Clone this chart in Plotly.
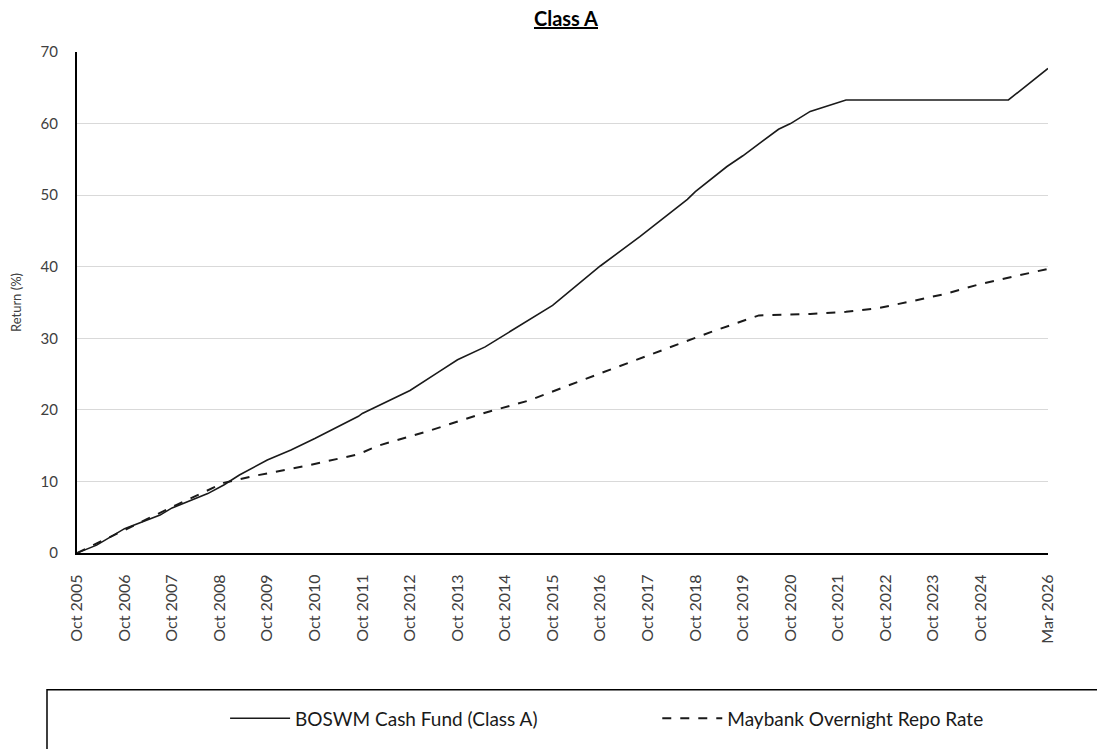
import plotly.graph_objects as go

fund_dates = ["2005-10", "2006-03", "2006-10", "2007-07", "2007-10", "2008-07", "2008-11",
              "2009-03", "2009-10", "2010-04", "2010-10", "2011-09", "2011-10", "2012-10",
              "2013-05", "2013-10", "2014-05", "2014-10", "2015-02", "2015-10", "2016-10",
              "2017-08", "2018-08", "2018-10", "2019-06", "2019-10", "2020-07", "2020-10",
              "2021-03", "2021-12", "2025-05", "2026-03"]
fund_values = [0.0, 1.1, 3.4, 5.3, 6.3, 8.3, 9.5,
               10.9, 13.0, 14.4, 16.0, 19.1, 19.5, 22.7,
               25.2, 27.0, 28.8, 30.5, 31.8, 34.6, 40.1,
               44.2, 49.4, 50.5, 54.0, 55.5, 59.2, 60.0,
               61.7, 63.3, 63.3, 67.7]

bench_dates = ["2005-10", "2006-08", "2007-11", "2008-11", "2009-07", "2010-08", "2011-09",
               "2012-02", "2013-03", "2014-05", "2015-04", "2016-10", "2018-05", "2019-02",
               "2020-02", "2021-03", "2021-12", "2022-08", "2023-04", "2024-01", "2024-10",
               "2025-06", "2026-03"]
bench_values = [0.0, 2.7, 6.7, 9.8, 10.8, 12.2, 13.8,
                15.0, 17.1, 19.6, 21.3, 25.1, 29.0, 30.9,
                33.2, 33.4, 33.7, 34.2, 35.1, 36.2, 37.6,
                38.6, 39.7]

tick_dates = [f"{y}-10-01" for y in range(2005, 2025)] + ["2026-03-01"]
tick_labels = [f"Oct {y}" for y in range(2005, 2025)] + ["Mar 2026"]

FONT = "Lato"

fig = go.Figure()
fig.add_trace(go.Scatter(x=fund_dates, y=fund_values, mode="lines",
                         name="BOSWM Cash Fund (Class A)", legend="legend",
                         line=dict(color="#1a1a1a", width=1.6)))
fig.add_trace(go.Scatter(x=bench_dates, y=bench_values, mode="lines",
                         name="Maybank Overnight Repo Rate", legend="legend2",
                         line=dict(color="#1a1a1a", width=2, dash="dash")))

legend_common = dict(orientation="h", xanchor="left", y=-0.33, yanchor="middle",
                     font=dict(size=19, color="#1a1a1a", family=FONT),
                     bgcolor="rgba(0,0,0,0)", itemwidth=60)

fig.update_layout(
    width=1097, height=749,
    margin=dict(l=77, r=49, t=52, b=187),
    paper_bgcolor="white", plot_bgcolor="white",
    font=dict(family=FONT, color="#333333"),
    title=dict(text="<b><u>Class A</u></b>", x=0.5036, xref="paper", xanchor="center",
               y=1 - 19 / 749, yanchor="middle", font=dict(size=20, color="#000000", family=FONT)),
    showlegend=True,
    legend=dict(x=0.1525, **legend_common),
    legend2=dict(x=0.5976, **legend_common),
    shapes=[dict(type="rect", xref="paper", yref="paper", x0=-0.0309, x1=1.06,
                 y0=-0.273, y1=-0.45, line=dict(color="#000000", width=1.5), layer="above")],
)

fig.update_xaxes(type="date", range=["2005-10-01", "2026-03-01"],
                 tickvals=tick_dates, ticktext=tick_labels, tickangle=-90,
                 tickfont=dict(size=16, color="#404040", family=FONT),
                 ticklabelstandoff=13,
                 showgrid=False, showline=True, linecolor="#000000", linewidth=2,
                 ticks="", zeroline=False)
fig.update_yaxes(range=[0, 70], dtick=10, tick0=0,
                 tickfont=dict(size=15, color="#404040", family=FONT),
                 ticklabelstandoff=14,
                 showgrid=True, gridcolor="#d9d9d9", gridwidth=1,
                 showline=True, linecolor="#000000", linewidth=2,
                 ticks="", zeroline=False,
                 title=dict(text="Return (%)", font=dict(size=13, color="#404040", family=FONT),
                            standoff=16))

fig.write_html("out.html")
